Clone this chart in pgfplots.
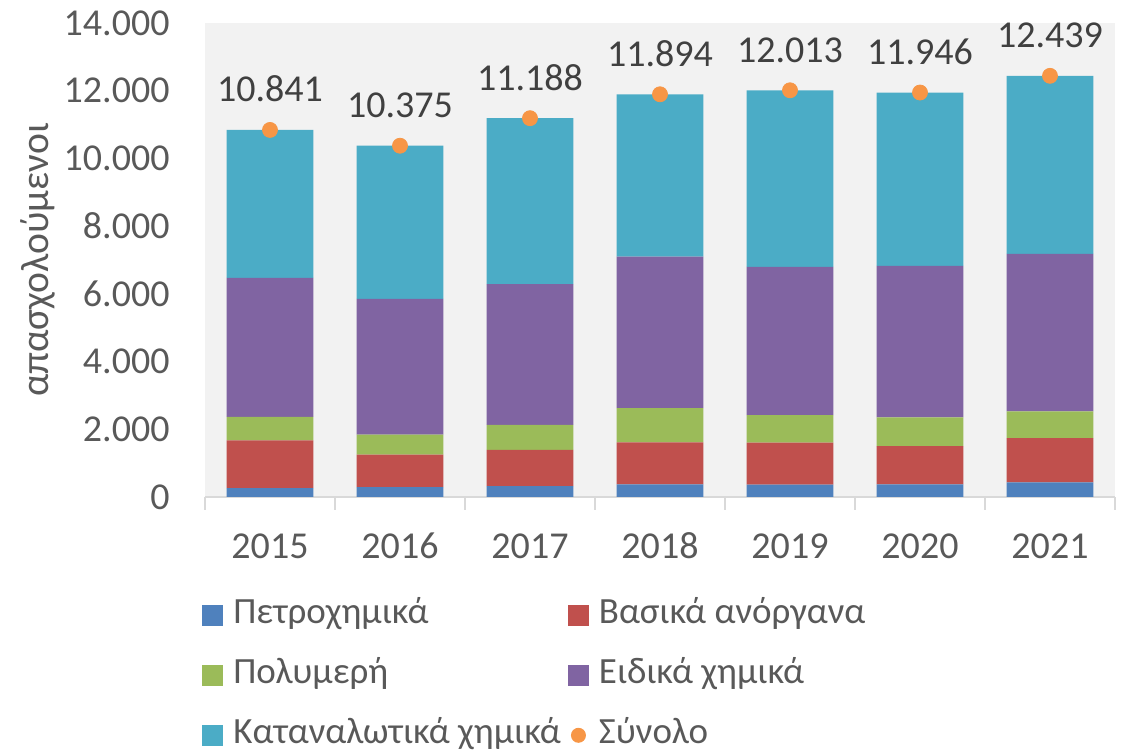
\documentclass[border=0pt]{standalone}
\usepackage{fontspec}
\setmainfont{Carlito}
\usepackage{pgfplots}
\pgfplotsset{compat=1.18}
\definecolor{petro}{HTML}{4F81BD}
\definecolor{inorg}{HTML}{C0504D}
\definecolor{poly}{HTML}{9BBB59}
\definecolor{spec}{HTML}{8064A2}
\definecolor{cons}{HTML}{4BACC6}
\definecolor{total}{HTML}{F79646}
\definecolor{bggrey}{HTML}{F2F2F2}
\definecolor{axisgrey}{HTML}{D9D9D9}
\definecolor{txtgrey}{HTML}{595959}
\definecolor{lblgrey}{HTML}{404040}

\pgfplotsset{
  /pgf/number format/.cd, 1000 sep={.}, assume math mode=true,
}
\pgfplotsset{
  chartbase/.style={
    at={(102.5pt,128.5pt)}, anchor=south west,
    scale only axis, width=455pt, height=237pt,
    xmin=-0.5, xmax=6.5, ymin=0, ymax=14000,
  },
  sqlegend/.style={legend image code/.code={
    \fill[##1] (0pt,-5.25pt) rectangle (10.5pt,5.25pt);}},
}

\begin{document}
\begin{tikzpicture}
\useasboundingbox (0,0) rectangle (562.5pt,377pt);
\begin{axis}[chartbase,
  axis background/.style={fill=bggrey},
  ybar stacked, bar width=0.667,
  axis x line*=bottom, axis y line*=left,
  x axis line style={draw=axisgrey, line width=1pt, -},
  y axis line style={draw=none},
  xtick={0,...,6}, xticklabels={2015,2016,2017,2018,2019,2020,2021},
  ytick={0,2000,...,14000}, scaled y ticks=false,
  x tick style={draw=none}, y tick style={draw=none},
  tick label style={font=\fontsize{19}{22}\selectfont, text=txtgrey},
  yticklabel style={anchor=east, inner sep=0pt, xshift=-17.5pt},
  xticklabel style={anchor=base, inner sep=0pt, yshift=-31pt},
  extra x ticks={-0.5,0.5,...,6.5}, extra x tick labels={},
  extra x tick style={tick align=outside, major tick length=6.5pt,
    x tick style={draw=axisgrey, line width=1pt}},
  ylabel={απασχολούμενοι},
  ylabel style={at={(rel axis cs:0,0.5)}, anchor=base, yshift=78pt,
    font=\fontsize{19.8}{22}\selectfont, text=txtgrey},
  legend columns=2,
  legend style={at={(rel axis cs:-0.0033,-0.2150)}, anchor=north west,
    draw=none, fill=none, inner sep=0pt, row sep=14pt,
    font=\fontsize{18.5}{21}\selectfont, text=txtgrey,
    nodes={inner sep=0pt, text height=12pt, text depth=4pt},
    /tikz/every odd column/.append style={column sep=5pt},
    /tikz/every even column/.append style={column sep=3.5pt}},
  legend cell align=left,
]
\addplot[fill=petro, draw=none, sqlegend] coordinates
  {(0,260) (1,290) (2,320) (3,375) (4,365) (5,375) (6,435)};
\addlegendentry{Πετροχημικά}
\addplot[fill=inorg, draw=none, sqlegend] coordinates
  {(0,1410) (1,960) (2,1070) (3,1240) (4,1240) (5,1130) (6,1305)};
\addlegendentry{Βασικά ανόργανα}
\addplot[fill=poly, draw=none, sqlegend] coordinates
  {(0,700) (1,590) (2,740) (3,1010) (4,810) (5,850) (6,790)};
\addlegendentry{Πολυμερή}
\addplot[fill=spec, draw=none, sqlegend] coordinates
  {(0,4100) (1,4010) (2,4160) (3,4475) (4,4380) (5,4470) (6,4650)};
\addlegendentry{Ειδικά χημικά}
\addplot[fill=cons, draw=none, sqlegend] coordinates
  {(0,4371) (1,4525) (2,4898) (3,4794) (4,5218) (5,5121) (6,5259)};
\addlegendentry{Καταναλωτικά χημικά}
\addlegendimage{legend image code/.code={
  \path[draw=none, fill=none] (0pt,-5.25pt) rectangle (10.5pt,5.25pt);
  \fill[total, draw=none] (5.25pt,0pt) circle (3.75pt);}}
\addlegendentry{Σύνολο}
\end{axis}

\begin{axis}[chartbase, hide axis, clip=false]
\addplot[only marks, mark=*, mark size=3.75pt, color=total,
  nodes near coords,
  every node near coord/.append style={anchor=base, inner sep=0pt,
    yshift=14pt, font=\fontsize{19}{22}\selectfont, text=lblgrey}]
  coordinates {(0,10841) (1,10375) (2,11188) (3,11894) (4,12013)
    (5,11946) (6,12439)};
\end{axis}
\end{tikzpicture}
\end{document}
